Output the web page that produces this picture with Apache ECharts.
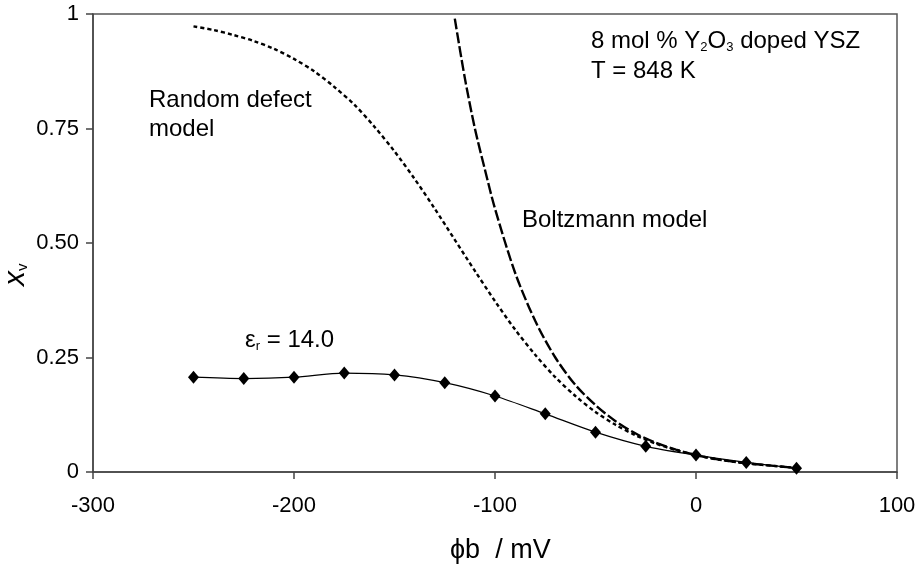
<!DOCTYPE html>
<html>
<head>
<meta charset="utf-8">
<script src="https://cdn.jsdelivr.net/npm/echarts@6/dist/echarts.min.js"></script>
<style>html,body{margin:0;padding:0;background:#fff}#c{width:920px;height:565px}</style>
</head>
<body>
<div id="c"></div>
<script>
// ---- data ----
var xTicks = [-300, -200, -100, 0, 100];
var yTicks = [0, 0.25, 0.5, 0.75, 1];
var yTickLabels = ['0', '0.25', '0.50', '0.75', '1'];

// epsilon_r = 14.0 (diamonds)
var epsX = [-250, -225, -200, -175, -150, -125, -100, -75, -50, -25, 0, 25, 50];
var epsY = [0.207, 0.204, 0.207, 0.216, 0.212, 0.195, 0.166, 0.127, 0.087, 0.056, 0.037, 0.021, 0.008];

// Random defect model (dotted)
var rdX = [-250, -240, -230, -220, -210, -200, -190, -180, -170, -160, -150, -140, -130, -120, -110, -100,
           -90, -80, -70, -60, -50, -40, -30, -20, -10, 0, 10, 25, 50];
var rdY = [0.973, 0.965, 0.954, 0.941, 0.924, 0.902, 0.875, 0.841, 0.802, 0.754, 0.700, 0.640, 0.575, 0.507, 0.439, 0.373,
           0.311, 0.256, 0.207, 0.166, 0.131, 0.103, 0.080, 0.062, 0.048, 0.037, 0.028, 0.019, 0.009];

// Boltzmann model (dashed)
var bzX = [-120, -115, -110, -105, -100, -90, -80, -70, -60, -50, -40, -30, -20, -10, 0, 10, 25, 50];
var bzY = [0.99, 0.86, 0.75, 0.66, 0.575, 0.435, 0.33, 0.25, 0.19, 0.146, 0.111, 0.084, 0.064, 0.049, 0.037, 0.028, 0.019, 0.009];

function zip(xs, ys) { return xs.map(function (x, i) { return [x, ys[i]]; }); }

var FONT = '"Liberation Sans", Arial, sans-serif';
var chart = echarts.init(document.getElementById('c'));
chart.setOption({
  backgroundColor: '#fff',
  animation: false,
  grid: { left: 93, right: 23, top: 14, bottom: 93, show: true, borderColor: '#555', borderWidth: 1.5 },
  xAxis: {
    type: 'value', min: xTicks[0], max: xTicks[xTicks.length - 1], interval: 100,
    axisLine: { onZero: false, lineStyle: { color: '#444', width: 1.5 } },
    axisTick: { show: true, length: 7, lineStyle: { color: '#444', width: 1.5 } },
    splitLine: { show: false },
    axisLabel: { color: '#000', fontSize: 22, fontFamily: FONT, margin: 23 }
  },
  yAxis: {
    type: 'value', min: yTicks[0], max: yTicks[yTicks.length - 1], interval: 0.25,
    axisLine: { onZero: false, lineStyle: { color: '#444', width: 1.5 } },
    axisTick: { show: true, length: 7, lineStyle: { color: '#444', width: 1.5 } },
    splitLine: { show: false },
    axisLabel: {
      color: '#000', fontSize: 22, fontFamily: FONT, margin: 14,
      formatter: function (v) { var i = yTicks.indexOf(v); return i >= 0 ? yTickLabels[i] : ''; }
    }
  },
  series: [
    {
      name: 'Random defect model', type: 'line', smooth: 0.3, showSymbol: false,
      data: zip(rdX, rdY), z: 2,
      lineStyle: { color: '#000', width: 2.4, type: [4, 3] }
    },
    {
      name: 'Boltzmann model', type: 'line', smooth: 0.3, showSymbol: false,
      data: zip(bzX, bzY), z: 2,
      lineStyle: { color: '#000', width: 2.4, type: [11, 3] }
    },
    {
      name: 'eps', type: 'line', smooth: 0.3, symbol: 'diamond', symbolSize: [11, 13],
      data: zip(epsX, epsY), z: 3,
      lineStyle: { color: '#000', width: 1.2 },
      itemStyle: { color: '#000' }
    }
  ],
  graphic: [
    { type: 'text', left: 149, top: 86, style: { text: 'Random defect\nmodel', font: '24px ' + FONT, fill: '#000', lineHeight: 29 } },
    { type: 'text', left: 522, top: 208, style: { text: 'Boltzmann model', font: '24px ' + FONT, fill: '#000' } },
    { type: 'text', left: 591, top: 26, style: {
        text: '8 mol % Y{s|2}O{s|3} doped YSZ\nT = 848 K', font: '24px ' + FONT, fill: '#000', lineHeight: 30,
        rich: { s: { fontSize: 13, fontFamily: FONT, padding: [12, 0, 0, 0], fill: '#000' } } } },
    { type: 'text', left: 245, top: 328, style: {
        text: '\u03b5{s|r} = 14.0', font: '24px ' + FONT, fill: '#000',
        rich: { s: { fontSize: 13, fontFamily: FONT, padding: [12, 0, 0, 0], fill: '#000' } } } },
    { type: 'text', left: 450, top: 537, style: { text: '\u03d5b  / mV', font: '27px ' + FONT, fill: '#000' } },
    { type: 'text', x: 1, y: 286, rotation: Math.PI / 2, style: {
        text: '{i|x}{s|v}', font: '30px ' + FONT, fill: '#000',
        rich: { i: { fontSize: 30, fontStyle: 'italic', fontFamily: FONT, fill: '#000' },
                s: { fontSize: 15, fontFamily: FONT, padding: [14, 0, 0, 0], fill: '#000' } } } }
  ]
});
</script>
</body>
</html>
